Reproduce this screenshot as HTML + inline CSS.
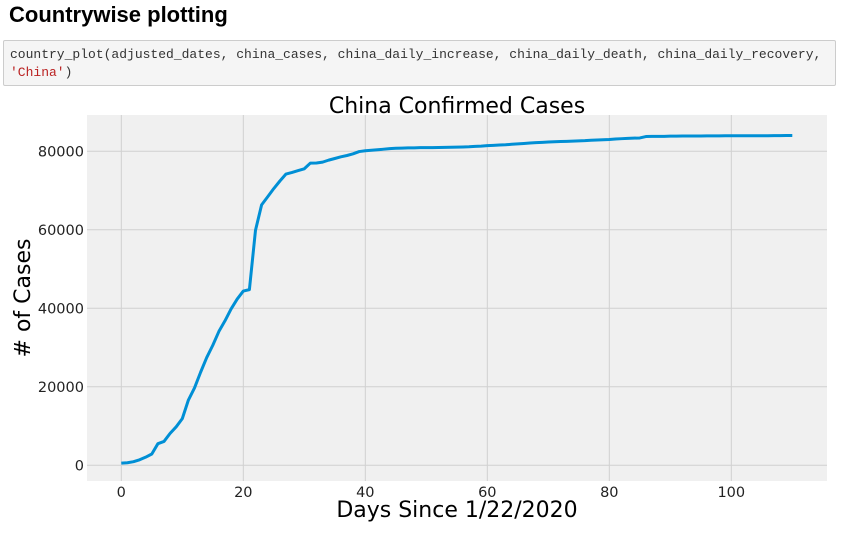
<!DOCTYPE html>
<html><head><meta charset="utf-8"><style>
body{margin:0;width:864px;height:533px;background:#fff;overflow:hidden;font-family:"Liberation Sans",sans-serif;}
h2{position:absolute;left:9px;top:2px;margin:0;font-size:22px;font-weight:bold;color:#000;}
.code{position:absolute;left:3px;top:40px;width:833px;height:46px;background:#f5f5f5;border:1px solid #ccc;border-radius:2px;font-family:"Liberation Mono",monospace;font-size:13px;line-height:18px;padding:5px 0 0 6px;box-sizing:border-box;color:#333;white-space:pre;}
.str{color:#ba2121;}
svg{position:absolute;left:0;top:0;font-family:"DejaVu Sans",sans-serif;}
</style></head><body>
<h2>Countrywise plotting</h2>
<div class="code">country_plot(adjusted_dates, china_cases, china_daily_increase, china_daily_death, china_daily_recovery,
<span class="str">'China'</span>)</div>
<svg id="chart" width="864" height="533"></svg>
<script>
const cases=[548,643,920,1406,2075,2877,5509,6087,8141,9802,11891,16630,19716,23707,27440,30587,34110,36814,39829,42354,44386,44759,59895,66358,68413,70513,72434,74211,74619,75077,75550,77001,77022,77241,77754,78166,78600,78928,79356,79932,80136,80261,80386,80537,80690,80770,80823,80860,80887,80921,80932,80945,80977,81003,81033,81058,81102,81156,81250,81305,81435,81498,81591,81661,81782,81897,81999,82122,82198,82279,82361,82432,82511,82543,82602,82665,82718,82809,82883,82941,83014,83134,83213,83306,83356,83403,83760,83787,83805,83817,83853,83868,83884,83899,83909,83912,83918,83940,83944,83956,83959,83964,83966,83968,83970,83975,83976,83990,83996,84010,84011];
const xTicks=[0,20,40,60,80,100];
const yTicks=[0,20000,40000,60000,80000];
const NS='http://www.w3.org/2000/svg';
const svg=document.getElementById('chart');
const L=87,R=827,T=115,B=481;
const x=d=>121.3+d*6.1;
const y=v=>465.3-v*0.003925;
function mk(t,a){const e=document.createElementNS(NS,t);for(const k in a)e.setAttribute(k,a[k]);svg.appendChild(e);return e;}
const bg=mk('rect',{x:L,y:T,width:R-L,height:B-T,fill:'#f0f0f0'});


xTicks.forEach(t=>{
 const g=mk('line',{x1:x(t),x2:x(t),y1:T,y2:B,stroke:'#d0d0d0','stroke-width':1});
 
 
 const l=mk('text',{x:x(t),y:B+16,'text-anchor':'middle','font-size':14.5,fill:'#222'});
 l.textContent=t;
 
 
});
yTicks.forEach(t=>{
 const g=mk('line',{x1:L,x2:R,y1:y(t),y2:y(t),stroke:'#d0d0d0','stroke-width':1});
 
 
 const l=mk('text',{x:L-3,y:y(t)+5,'text-anchor':'end','font-size':14.5,fill:'#222'});
 l.textContent=t;
 
 
});
const p=mk('polyline',{points:cases.map((v,i)=>x(i)+','+y(v)).join(' '),fill:'none',stroke:'#008fd5','stroke-width':3,'stroke-linejoin':'round'});


const ti=mk('text',{x:457,y:113,'text-anchor':'middle','font-size':22,fill:'#000'});
ti.textContent='China Confirmed Cases';


const xl=mk('text',{x:457,y:517,'text-anchor':'middle','font-size':22,fill:'#000'});
xl.textContent='Days Since 1/22/2020';


const yl=mk('text',{x:0,y:0,'text-anchor':'middle','font-size':22,fill:'#000',transform:'translate(30,298) rotate(-90)'});
yl.textContent='# of Cases';


</script>
</body></html>
